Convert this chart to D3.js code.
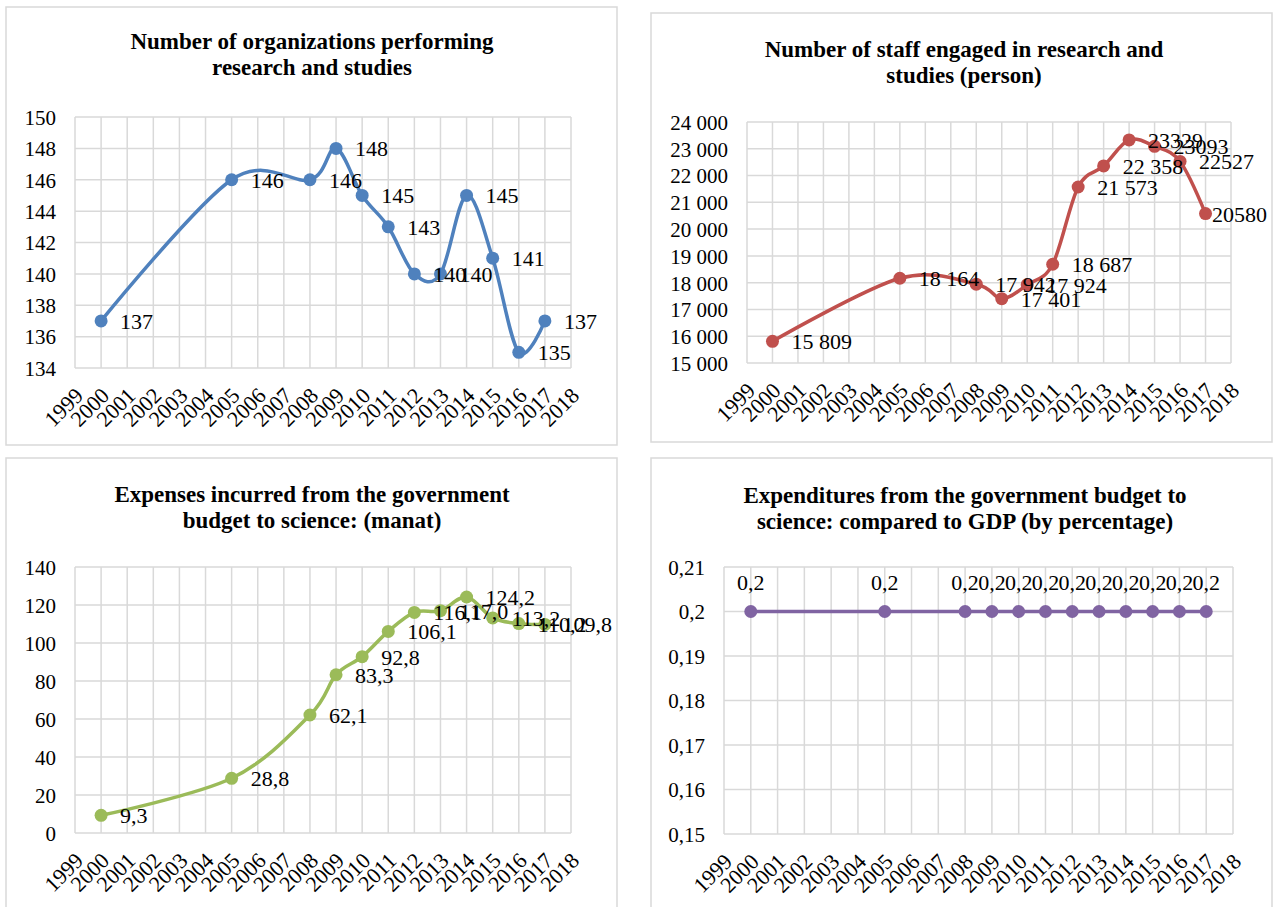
<!DOCTYPE html>
<html>
<head>
<meta charset="utf-8">
<script src="https://cdn.jsdelivr.net/npm/d3@7"></script>
<style>
  body { margin: 0; background: #fff; }
  svg text { font-family: "Liberation Serif", "Times New Roman", serif; fill: #000; }
</style>
</head>
<body>
<div id="plot"></div>
<script>
// years that have a value
var years = [2000, 2005, 2008, 2009, 2010, 2011, 2012, 2013, 2014, 2015, 2016, 2017];
// x axis tick labels
var yearTicks = [1999, 2000, 2001, 2002, 2003, 2004, 2005, 2006, 2007, 2008, 2009,
                 2010, 2011, 2012, 2013, 2014, 2015, 2016, 2017, 2018];

var orgCounts = [137, 146, 146, 148, 145, 143, 140, 140, 145, 141, 135, 137];
var orgLabels = ["137", "146", "146", "148", "145", "143", "140", "140", "145", "141", "135", "137"];
var orgTicks = [134, 136, 138, 140, 142, 144, 146, 148, 150];

var staffCounts = [15809, 18164, 17942, 17401, 17924, 18687, 21573, 22358, 23329, 23093, 22527, 20580];
var staffLabels = ["15 809", "18 164", "17 942", "17 401", "17 924", "18 687", "21 573", "22 358",
                   "23329", "23093", "22527", "20580"];
var staffTicks = [15000, 16000, 17000, 18000, 19000, 20000, 21000, 22000, 23000, 24000];

var budgetManat = [9.3, 28.8, 62.1, 83.3, 92.8, 106.1, 116.1, 117.0, 124.2, 113.2, 110.2, 109.8];
var budgetLabels = ["9,3", "28,8", "62,1", "83,3", "92,8", "106,1", "116,1", "117,0", "124,2", "113,2", "110,2", "109,8"];
var budgetTicks = [0, 20, 40, 60, 80, 100, 120, 140];

var gdpShare = [0.2, 0.2, 0.2, 0.2, 0.2, 0.2, 0.2, 0.2, 0.2, 0.2, 0.2, 0.2];
var gdpLabels = ["0,2", "0,2", "0,2", "0,2", "0,2", "0,2", "0,2", "0,2", "0,2", "0,2", "0,2", "0,2"];
var gdpTicks = [0.15, 0.16, 0.17, 0.18, 0.19, 0.2, 0.21];

var locale = d3.formatLocale({decimal: ",", thousands: " ", grouping: [3], currency: ["", ""]});

var width = 1277;
var height = 907;

var svg = d3.select("#plot").append("svg").attr("width", width).attr("height", height);

var panels = [
    {
        title: ["Number of organizations performing", "research and studies"],
        titleX: 312, titleY: 49,
        box: [6, 7, 617, 445],
        plot: [75, 117, 571, 368],
        values: orgCounts, labels: orgLabels,
        ticks: orgTicks, tickFormat: locale.format("d"),
        color: "#4F81BD", labelPos: "right", smooth: true
    },
    {
        title: ["Number of staff engaged in research and", "studies (person)"],
        titleX: 964, titleY: 57,
        box: [651, 13, 1272, 442],
        plot: [747, 122, 1231, 363],
        values: staffCounts, labels: staffLabels,
        ticks: staffTicks, tickFormat: locale.format(",d"),
        color: "#C0504D", labelPos: "right", smooth: true
    },
    {
        title: ["Expenses incurred from the government", "budget to science: (manat)"],
        titleX: 312, titleY: 502,
        box: [6, 458, 617, 915],
        plot: [75, 567, 571, 833],
        values: budgetManat, labels: budgetLabels,
        ticks: budgetTicks, tickFormat: locale.format("d"),
        color: "#9BBB59", labelPos: "right", smooth: true
    },
    {
        title: ["Expenditures from the government budget to", "science: compared to GDP (by percentage)"],
        titleX: 965, titleY: 503,
        box: [651, 458, 1272, 915],
        plot: [724, 567, 1233, 834],
        values: gdpShare, labels: gdpLabels,
        ticks: gdpTicks, tickFormat: locale.format(".2~f"),
        color: "#8064A2", labelPos: "top", smooth: false
    }
];

panels.forEach(function(p) { drawPanel(p); });

function drawPanel(p) {
    var g = svg.append("g");

    // outer chart border
    g.append("rect")
        .attr("x", p.box[0]).attr("y", p.box[1])
        .attr("width", p.box[2] - p.box[0]).attr("height", p.box[3] - p.box[1])
        .attr("fill", "#fff").attr("stroke", "#d9d9d9").attr("stroke-width", 1.5);

    // title
    var title = g.append("text")
        .attr("x", p.titleX).attr("y", p.titleY)
        .attr("text-anchor", "middle")
        .style("font-weight", "bold").style("font-size", "23px");
    p.title.forEach(function(line, i) {
        title.append("tspan").attr("x", p.titleX).attr("dy", i == 0 ? 0 : 26).text(line);
    });

    var xScale = d3.scaleLinear()
        .domain([yearTicks[0], yearTicks[yearTicks.length - 1]])
        .range([p.plot[0], p.plot[2]]);

    var yScale = d3.scaleLinear()
        .domain([p.ticks[0], p.ticks[p.ticks.length - 1]])
        .range([p.plot[3], p.plot[1]]);

    // gridlines
    var grid = g.append("g").attr("stroke", "#d9d9d9").attr("stroke-width", 1.5);
    grid.selectAll("line.h").data(p.ticks).enter().append("line")
        .attr("x1", p.plot[0]).attr("x2", p.plot[2])
        .attr("y1", function(d) { return yScale(d); })
        .attr("y2", function(d) { return yScale(d); });
    grid.selectAll("line.v").data(yearTicks).enter().append("line")
        .attr("x1", function(d) { return xScale(d); })
        .attr("x2", function(d) { return xScale(d); })
        .attr("y1", p.plot[1]).attr("y2", p.plot[3]);

    // y axis labels
    var yAxis = g.append("g")
        .attr("transform", "translate(" + (p.plot[0] - 19) + ",0)")
        .call(d3.axisLeft(yScale).tickValues(p.ticks).tickFormat(p.tickFormat).tickSize(0));
    yAxis.select(".domain").remove();
    yAxis.selectAll("text").style("font-size", "21px").attr("dy", "0.35em").attr("x", 0);

    // x axis labels (rotated)
    var xAxis = g.append("g")
        .attr("transform", "translate(0," + p.plot[3] + ")")
        .call(d3.axisBottom(xScale).tickValues(yearTicks).tickFormat(d3.format("d")).tickSize(0));
    xAxis.select(".domain").remove();
    xAxis.selectAll("text")
        .style("font-size", "22px")
        .attr("text-anchor", "end")
        .attr("dy", 0).attr("y", 0)
        .attr("transform", "translate(9,29) rotate(-45)");

    // line
    var line = d3.line()
        .x(function(d, i) { return xScale(years[i]); })
        .y(function(d) { return yScale(d); })
        .curve(p.smooth ? d3.curveCardinal.tension(0) : d3.curveLinear);

    g.append("path")
        .datum(p.values)
        .attr("d", line)
        .attr("fill", "none")
        .attr("stroke", p.color)
        .attr("stroke-width", 3.5)
        .attr("stroke-linejoin", "round");

    g.selectAll("circle")
        .data(p.values)
        .enter()
        .append("circle")
        .attr("cx", function(d, i) { return xScale(years[i]); })
        .attr("cy", function(d) { return yScale(d); })
        .attr("r", 6.5)
        .attr("fill", p.color);

    // data labels
    g.selectAll("text.lbl")
        .data(p.values)
        .enter()
        .append("text")
        .attr("class", "lbl")
        .style("font-size", "22px")
        .attr("text-anchor", p.labelPos == "top" ? "middle" : "start")
        .attr("x", function(d, i) { return xScale(years[i]) + (p.labelPos == "top" ? 0 : 19); })
        .attr("y", function(d) { return yScale(d) + (p.labelPos == "top" ? -22 : 8); })
        .text(function(d, i) { return p.labels[i]; })
        .each(function() {
            // keep label inside the chart border
            var el = d3.select(this);
            var w = this.getComputedTextLength();
            var x = +el.attr("x");
            if (p.labelPos != "top" && x + w > p.box[2] - 5) el.attr("x", p.box[2] - 5 - w);
        });
}
</script>
</body>
</html>
